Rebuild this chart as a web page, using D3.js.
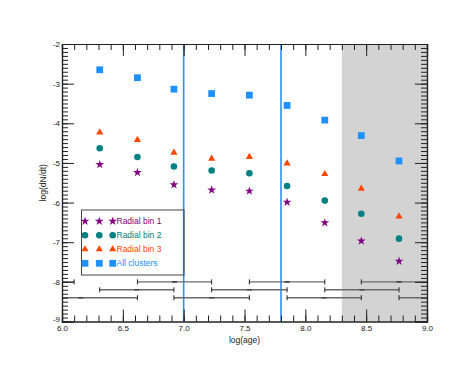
<!DOCTYPE html>
<html>
<head>
<meta charset="utf-8">
<script src="https://cdn.jsdelivr.net/npm/d3@7"></script>
<style>
  body { margin: 0; background: #fff; }
  svg { display: block; font-family: "Liberation Sans", Arial, sans-serif; }
</style>
</head>
<body>
<div id="chart"></div>
<script>
// log(age) bin centres
const ages = [6.31, 6.62, 6.92, 7.23, 7.54, 7.85, 8.16, 8.46, 8.77];
// log(dN/dt) per series
const bin1 = [-5.04, -5.24, -5.55, -5.68, -5.71, -5.99, -6.51, -6.97, -7.48];
const bin2 = [-4.63, -4.85, -5.09, -5.19, -5.26, -5.58, -5.95, -6.28, -6.91];
const bin3 = [-4.23, -4.42, -4.74, -4.89, -4.85, -5.01, -5.28, -5.65, -6.35];
const allClusters = [-2.65, -2.85, -3.14, -3.25, -3.29, -3.55, -3.92, -4.31, -4.95];

// age-bin width bars along the bottom (lo, hi, level)
const barLo = [5.48, 6.62, 7.54, 8.46, 6.31, 7.23, 8.16, 5.69, 6.92, 7.85, 8.77];
const barHi = [6.10, 7.23, 8.16, 9.08, 6.92, 7.85, 8.77, 6.62, 7.54, 8.46, 9.39];
const barLevel = [-8.0, -8.0, -8.0, -8.0, -8.2, -8.2, -8.2, -8.4, -8.4, -8.4, -8.4];

const splitAges = [7.0, 7.8];
const shadeFrom = 8.3;

const xMajor = [6.0, 6.5, 7.0, 7.5, 8.0, 8.5, 9.0];
const yMajor = [-9, -8, -7, -6, -5, -4, -3, -2];

const width = 463, height = 371;
const pLeft = 62, pRight = 427, pTop = 44, pBottom = 321.5;

const svg = d3.select('#chart').append('svg')
    .attr('width', width)
    .attr('height', height);

const x = d3.scaleLinear().domain([6, 9]).range([pLeft, pRight]);
const y = d3.scaleLinear().domain([-9, -2]).range([pBottom, pTop]);

svg.append('defs').append('clipPath').attr('id', 'plot')
  .append('rect')
    .attr('x', pLeft).attr('y', pTop)
    .attr('width', pRight - pLeft).attr('height', pBottom - pTop);

// grey shaded region
svg.append('rect')
    .attr('x', x(shadeFrom))
    .attr('y', pTop)
    .attr('width', x(9) - x(shadeFrom))
    .attr('height', pBottom - pTop)
    .attr('fill', '#d3d3d3');

// vertical split lines
svg.append('g').selectAll('line')
  .data(splitAges)
  .enter().append('line')
    .attr('x1', d => x(d)).attr('x2', d => x(d))
    .attr('y1', pTop).attr('y2', pBottom)
    .attr('stroke', '#2f8fff')
    .attr('stroke-width', 1.6);

// bottom bars
const bars = svg.append('g')
    .attr('clip-path', 'url(#plot)')
    .attr('stroke', '#6a6a6a')
    .attr('stroke-width', 1.4);

barLo.forEach((lo, i) => {
  const hi = barHi[i], yy = y(barLevel[i]);
  bars.append('line')
      .attr('x1', x(lo)).attr('x2', x(hi))
      .attr('y1', yy).attr('y2', yy);
  [lo, hi].forEach(v => {
    bars.append('line')
        .attr('x1', x(v)).attr('x2', x(v))
        .attr('y1', yy - 2.5).attr('y2', yy + 2.5)
        .attr('stroke', '#222').attr('stroke-width', 1);
  });
  const mid = (lo + hi) / 2;
  bars.append('line')
      .attr('x1', x(mid) - 2.5).attr('x2', x(mid) + 2.5)
      .attr('y1', yy).attr('y2', yy)
      .attr('stroke', '#444').attr('stroke-width', 1.6);
});

// axes: inward ticks on all four sides
const xMinor = d3.range(60, 91).map(d => d / 10);
const yMinor = d3.range(-90, -19).map(d => d / 10);

function axisGroup(axis, tx, ty) {
  const g = svg.append('g')
      .attr('transform', `translate(${tx},${ty})`)
      .call(axis);
  g.select('.domain').attr('stroke', '#222');
  g.selectAll('.tick line').attr('stroke', '#222');
  return g;
}

const xb = axisGroup(d3.axisBottom(x).tickValues(xMajor).tickSize(-12).tickPadding(3)
    .tickFormat(d3.format('.1f')), 0, pBottom);
xb.selectAll('text').attr('font-size', 8).attr('fill', '#222').attr('y', 4);
axisGroup(d3.axisBottom(x).tickValues(xMinor).tickSize(-6).tickFormat(''), 0, pBottom);
axisGroup(d3.axisTop(x).tickValues(xMajor).tickSize(-12).tickFormat(''), 0, pTop);
axisGroup(d3.axisTop(x).tickValues(xMinor).tickSize(-6).tickFormat(''), 0, pTop);

const yl = axisGroup(d3.axisLeft(y).tickValues(yMajor).tickSize(-12).tickPadding(2)
    .tickFormat(d => String(d)), pLeft, 0);
yl.selectAll('text').attr('font-size', 8).attr('fill', '#222').attr('x', -2);
// lowest label sits a little higher, clear of the 6.0 label
yl.selectAll('.tick').filter(d => d === -9).select('text').attr('y', -3);
axisGroup(d3.axisLeft(y).tickValues(yMinor).tickSize(-6).tickFormat(''), pLeft, 0);
axisGroup(d3.axisRight(y).tickValues(yMajor).tickSize(-12).tickFormat(''), pRight, 0);
axisGroup(d3.axisRight(y).tickValues(yMinor).tickSize(-6).tickFormat(''), pRight, 0);

svg.selectAll('.domain').attr('stroke-width', 1.2);

// axis titles
svg.append('text')
    .attr('x', (pLeft + pRight) / 2)
    .attr('y', 343)
    .attr('text-anchor', 'middle')
    .attr('font-size', 8.5)
    .attr('fill', '#222')
    .text('log(age)');

svg.append('text')
    .attr('transform', `translate(46,${(pTop + pBottom) / 2}) rotate(-90)`)
    .attr('text-anchor', 'middle')
    .attr('font-size', 8.5)
    .attr('fill', '#222')
    .text('log(dN/dt)');

// data series
const series = [
  { name: 'Radial bin 1', values: bin1, color: '#800080', symbol: d3.symbolStar, size: 24 },
  { name: 'Radial bin 2', values: bin2, color: '#008080', symbol: d3.symbolCircle, size: 34 },
  { name: 'Radial bin 3', values: bin3, color: '#ff4500', symbol: d3.symbolTriangle, size: 22 },
  { name: 'All clusters', values: allClusters, color: '#1e90ff', symbol: d3.symbolSquare, size: 46 }
];

series.forEach(s => {
  svg.append('g').selectAll('path')
    .data(s.values)
    .enter().append('path')
      .attr('transform', (d, i) => `translate(${x(ages[i])},${y(d)})`)
      .attr('d', d3.symbol(s.symbol, s.size))
      .attr('fill', s.color);
});

// legend
const legend = svg.append('g');
legend.append('rect')
    .attr('x', 81.5).attr('y', 210)
    .attr('width', 102.5).attr('height', 65)
    .attr('fill', 'none')
    .attr('stroke', '#444')
    .attr('stroke-width', 1);

series.forEach((s, i) => {
  const ly = 221.3 + i * 14;
  [85, 99.3, 112.7].forEach(lx => {
    legend.append('path')
        .attr('transform', `translate(${lx},${ly})`)
        .attr('d', d3.symbol(s.symbol, s.size))
        .attr('fill', s.color);
  });
  legend.append('text')
      .attr('x', 116.5).attr('y', ly + 3)
      .attr('font-size', 8.5)
      .attr('fill', s.color)
      .text(s.name);
});
</script>
</body>
</html>
